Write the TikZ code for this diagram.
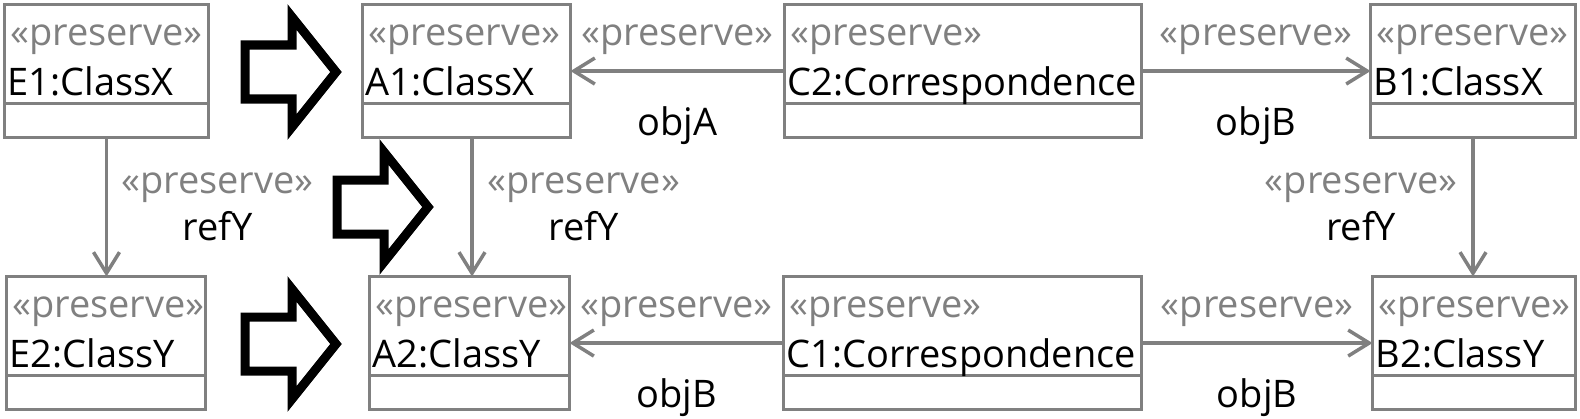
\documentclass[tikz,border=0pt]{standalone}
\usepackage{fontspec}
\setmainfont{Open Sans}
\usepackage{tikz}
\usetikzlibrary{arrows.meta,positioning,calc}
\definecolor{umlGray}   {RGB}{128,128,128}
\definecolor{refBlack}  {RGB}{0,  0,  0}

\begin{document}
\begin{tikzpicture}[x=0.01cm,y=-0.01cm,
    txt/.style={font=\fontsize{10.8}{13.4}\selectfont,inner sep=0pt},
    stereo/.style={txt,umlGray},
    objbox/.style={draw=umlGray,line width=0.035cm,minimum height=1.33cm,
                   inner sep=0pt,outer sep=0pt},
    link/.style={draw=umlGray,line width=0.035cm,
                 -{Straight Barb[length=0.21cm,width=0.26cm]}},
    bigarrow/.style={draw=refBlack,line width=0.09cm,miter limit=10}]
  \useasboundingbox (0,0) rectangle (1580,418);

  % objetos: nome/x/y/largura/rotulo
  \foreach \id/\x/\y/\w/\lbl in {E1/4.5/4.5/204/E1:ClassX,
      A1/362.5/4.5/208/A1:ClassX, C2/784.5/4.5/357/C2:Correspondence,
      B1/1370.5/4.5/205/B1:ClassX, E2/6.5/276.5/199/E2:ClassY,
      A2/369.5/276.5/200/A2:ClassY, C1/783.5/276.5/358/C1:Correspondence,
      B2/1372.5/276.5/203/B2:ClassY}{
    \node[objbox,minimum width=\w*0.01cm,anchor=north west] (\id) at (\x,\y) {};
    \draw[umlGray,line width=0.035cm]
      ([yshift=-0.99cm]\id.north west) -- ([yshift=-0.99cm]\id.north east);
    \node[stereo,anchor=base west] (\id-st)
      at ([xshift=0.05cm,yshift=-0.405cm]\id.north west) {«preserve»};
    \node[txt,anchor=base west] (\id-nm)
      at ([xshift=0.025cm,yshift=-0.905cm]\id.north west) {\lbl};
  }

  % setas grandes (refinamento)
  \foreach \ax/\ay in {245/72, 337/207, 245/344}{
    \draw[bigarrow] (\ax,\ay) ++(0,-27) -- ++(47,0) -- ++(0,-28)
      -- ++(44,55) -- ++(-44,55) -- ++(0,-28) -- ++(-47,0) -- cycle;
  }

  % ligacoes horizontais
  \draw[link] (C2.west) -- (A1.east)
    node[stereo,midway,anchor=base,yshift=0.26cm] (C2A1-st) {«preserve»}
    node[txt,midway,anchor=base,yshift=-0.64cm] (C2A1-nm) {objA};
  \draw[link] (C2.east) -- (B1.west)
    node[stereo,midway,anchor=base,yshift=0.26cm] (C2B1-st) {«preserve»}
    node[txt,midway,anchor=base,yshift=-0.64cm] (C2B1-nm) {objB};
  \draw[link] (C1.west) -- (A2.east)
    node[stereo,midway,anchor=base,yshift=0.26cm] (C1A2-st) {«preserve»}
    node[txt,midway,anchor=base,yshift=-0.64cm] (C1A2-nm) {objB};
  \draw[link] (C1.east) -- (B2.west)
    node[stereo,midway,anchor=base,yshift=0.26cm] (C1B2-st) {«preserve»}
    node[txt,midway,anchor=base,yshift=-0.64cm] (C1B2-nm) {objB};

  % ligacoes verticais (refY)
  \coordinate (A1bot) at ([xshift=0.055cm]A1.south);
  \draw[link] (E1.south) -- (E1.south |- E2.north)
    node[txt,midway,anchor=west,xshift=0.13cm,align=center] (E1E2-lb)
      {\textcolor{umlGray}{«preserve»}\\refY};
  \draw[link] (A1bot) -- (A1bot |- A2.north)
    node[txt,midway,anchor=west,xshift=0.14cm,align=center] (A1A2-lb)
      {\textcolor{umlGray}{«preserve»}\\refY};
  \draw[link] (B1.south) -- (B1.south |- B2.north)
    node[txt,midway,anchor=east,xshift=-0.14cm,align=center] (B1B2-lb)
      {\textcolor{umlGray}{«preserve»}\\refY};
\end{tikzpicture}
\end{document}
